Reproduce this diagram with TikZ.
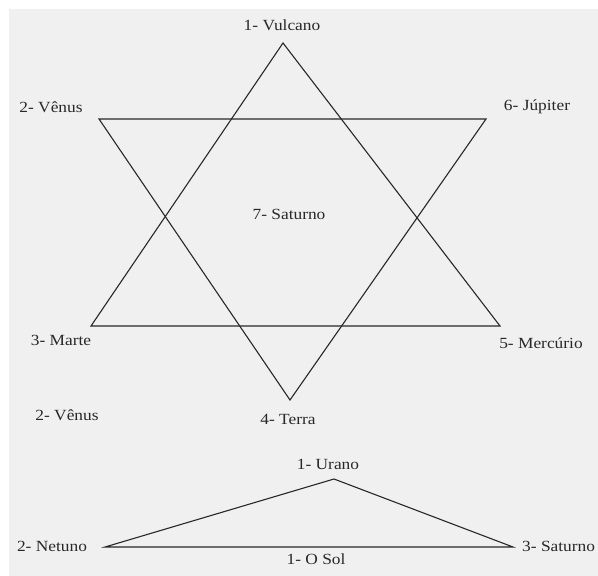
\documentclass[tikz,border=0pt]{standalone}
\usepackage{fontspec}
\setmainfont[FakeStretch=1.12]{Liberation Serif}
\definecolor{bggray}{RGB}{240,240,240}
\definecolor{inkgray}{RGB}{40,40,40}
\begin{document}
\begin{tikzpicture}[x=1pt,y=-1pt,
  edge/.style={draw=inkgray,line width=1.1pt,line join=miter},
  lbl/.style={inner sep=0pt,font=\fontsize{15.5}{17}\selectfont,text=inkgray}]
\useasboundingbox (0,0) rectangle (598,576);
\clip (0,0) rectangle (598,576);
\fill[bggray] (9,9) rectangle (598,576);
% star vertices
\coordinate (vul) at (283,43);
\coordinate (mar) at (91,326);
\coordinate (mer) at (500,326);
\coordinate (ven) at (99,119);
\coordinate (jup) at (486,119);
\coordinate (ter) at (290,400);
% lower triangle
\coordinate (ura) at (334,479);
\coordinate (net) at (105,547);
\coordinate (sat) at (513,547);
\draw[edge] (vul) -- (mer) -- (mar) -- cycle;
\draw[edge] (ven) -- (jup) -- (ter) -- cycle;
\draw[edge] (ura) -- (sat) -- (net) -- cycle;
% labels
\node[lbl] (lvul) at (282,25) {1- Vulcano};
\node[lbl] (lven) at (51,107) {2- Vênus};
\node[lbl] (ljup) at (537,107) {6- Júpiter};
\node[lbl] (lsat7) at (289,214) {7- Saturno};
\node[lbl] (lmar) at (61,340) {3- Marte};
\node[lbl] (lmer) at (541,343) {5- Mercúrio};
\node[lbl] (lven2) at (67,415) {2- Vênus};
\node[lbl] (lter) at (288,419) {4- Terra};
\node[lbl] (lura) at (328,464) {1- Urano};
\node[lbl] (lnet) at (52,546) {2- Netuno};
\node[lbl,anchor=west] (lsat3) at (522,546) {3- Saturno};
\node[lbl] (lsol) at (316,559) {1- O Sol};
\end{tikzpicture}
\end{document}
